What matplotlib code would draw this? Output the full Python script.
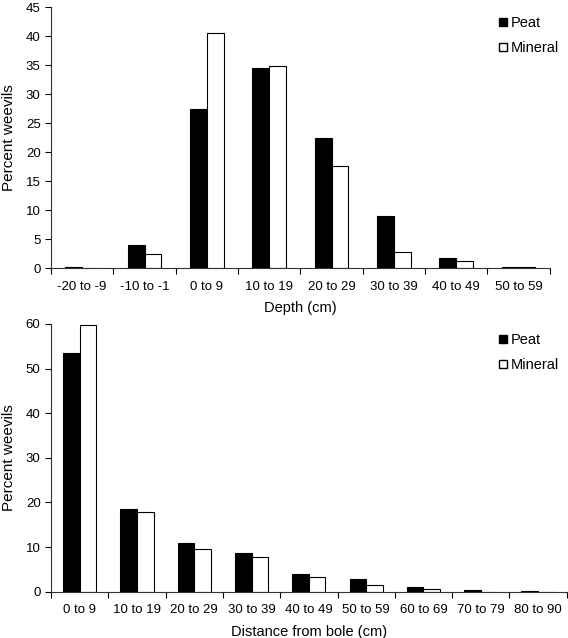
import numpy as np
import matplotlib.pyplot as plt
from matplotlib.lines import Line2D

plt.rcParams["font.family"] = ["Liberation Sans", "DejaVu Sans"]

# -------------------------------------------------
# Data
# -------------------------------------------------

depth_labels = ["-20 to -9", "-10 to -1", "0 to 9", "10 to 19",
                "20 to 29", "30 to 39", "40 to 49", "50 to 59"]
depth_peat = [0.2, 4.1, 27.4, 34.6, 22.5, 9.1, 1.7, 0.2]
depth_mineral = [0.0, 2.5, 40.6, 34.9, 17.6, 2.8, 1.3, 0.2]

dist_labels = ["0 to 9", "10 to 19", "20 to 29", "30 to 39", "40 to 49",
               "50 to 59", "60 to 69", "70 to 79", "80 to 90"]
dist_peat = [53.4, 18.5, 10.8, 8.7, 3.9, 2.8, 1.1, 0.3, 0.1]
dist_mineral = [59.8, 17.9, 9.6, 7.8, 3.4, 1.6, 0.5, 0.0, 0.0]

# -------------------------------------------------
# Figure
# -------------------------------------------------

fig = plt.figure(figsize=(5.68, 6.38), dpi=100)
ax1 = fig.add_axes([0.0898, 0.5795, 0.878, 0.409])
ax2 = fig.add_axes([0.0898, 0.0726, 0.908, 0.4196])


def draw_panel(ax, labels, peat, mineral, ymax, ystep, xlabel, width, legend_top):
    x = np.arange(len(labels))
    ax.bar(x - width / 2, peat, width, color="black", edgecolor="black", linewidth=0.8)
    ax.bar(x + width / 2, mineral, width, color="white", edgecolor="black", linewidth=0.8)

    ax.set_xlim(-0.5, len(labels) - 0.5)
    ax.set_ylim(0, ymax)
    ax.set_yticks(np.arange(0, ymax + 0.1, ystep))

    # category labels between boundary ticks, like a spreadsheet chart
    ax.set_xticks(np.arange(-0.5, len(labels)), minor=False)
    ax.set_xticklabels([])
    ax.set_xticks(x, minor=True)
    ax.set_xticklabels(labels, minor=True)
    ax.tick_params(axis="x", which="minor", length=0, pad=9, labelsize=9.5)
    ax.tick_params(axis="x", which="major", length=4, direction="out", width=0.8)
    ax.tick_params(axis="y", length=4, direction="out", width=0.8, labelsize=9.5)

    ax.spines["top"].set_visible(False)
    ax.spines["right"].set_visible(False)
    ax.spines["left"].set_color("#333333")
    ax.spines["bottom"].set_color("#333333")

    ax.set_ylabel("Percent weevils", fontsize=11, labelpad=7)
    ax.set_xlabel(xlabel, fontsize=10.5, labelpad=6)

    handles = [
        Line2D([], [], marker="s", linestyle="none", markersize=6,
               markerfacecolor="black", markeredgecolor="black"),
        Line2D([], [], marker="s", linestyle="none", markersize=6,
               markerfacecolor="white", markeredgecolor="black"),
    ]
    fig.legend(handles, ["Peat", "Mineral"], loc="upper left",
               bbox_to_anchor=(498 / 568, 1 - legend_top / 638),
               frameon=False, fontsize=10.5, borderpad=0, borderaxespad=0,
               handlelength=0.7, handletextpad=0.2, labelspacing=0.75)


draw_panel(ax1, depth_labels, depth_peat, depth_mineral, 45, 5,
           "Depth (cm)", 0.27, 16)
draw_panel(ax2, dist_labels, dist_peat, dist_mineral, 60, 10,
           "Distance from bole (cm)", 0.29, 333)

fig.savefig("out.png", dpi=100)
